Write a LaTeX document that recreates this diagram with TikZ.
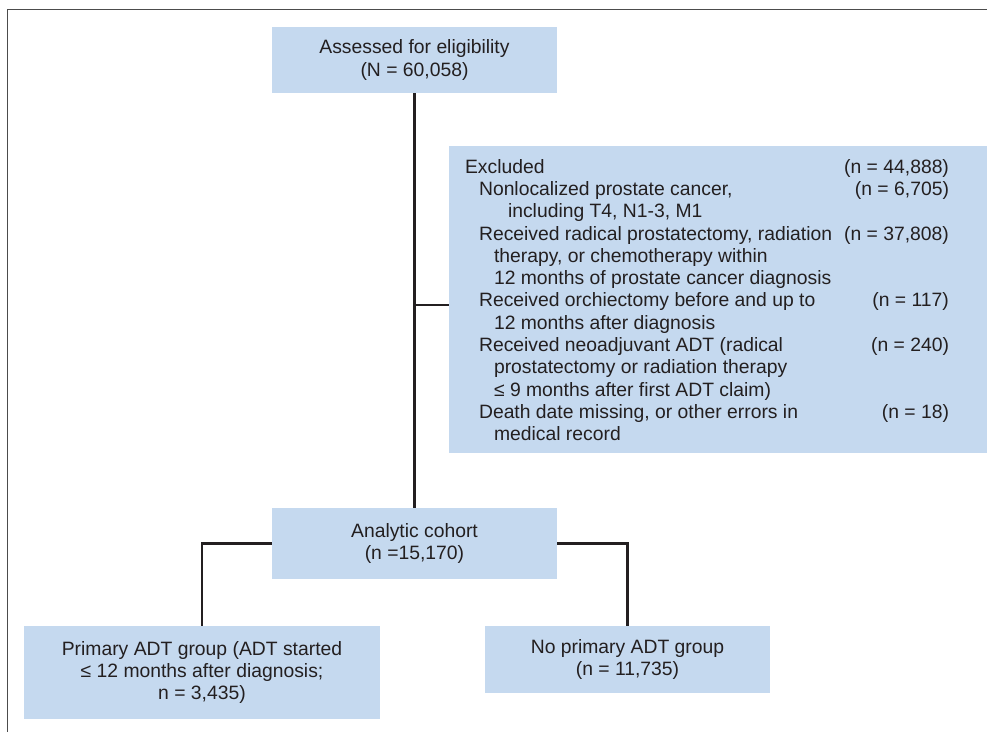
\documentclass[tikz,border=0pt]{standalone}
\usepackage{fontspec}
\setmainfont{Liberation Sans}
\usepackage{array}
\usetikzlibrary{calc}
\newcommand{\exitem}{\hspace*{0.28cm}}
\newcommand{\excont}{\hspace*{0.58cm}}
\newcommand{\exdeep}{\hspace*{0.86cm}}

\begin{document}
\begin{tikzpicture}[
  x=0.02cm, y=-0.02cm,
  font=\fontsize{11}{12.7}\selectfont,
  box/.style={fill=boxblue, text=ink, align=center, inner sep=0pt, minimum width=#1},
  link/.style={draw=ink, line width=1.5pt},
  frame/.style={draw=black!70, line width=1pt},
]
\definecolor{boxblue}{HTML}{C5D9EF}
\definecolor{ink}{HTML}{231F20}

\useasboundingbox (0,0) rectangle (987,732);
\draw[frame] (7.5,732) |- (987,9.5);

\node[box=5.7cm, minimum height=1.32cm] (assess) at (414.5,60) {Assessed for eligibility\\(N = 60,058)};
\node[box=10.76cm, minimum height=6.14cm] (excl) at (718,299.5) {%
\begin{tabular}{@{}p{7.58cm}@{}>{\raggedleft\arraybackslash}p{2.1cm}@{\hspace{0.44cm}}}
\noalign{\vspace{0.12cm}}
Excluded & (n = 44,888)\\
\exitem Nonlocalized prostate cancer, & (n = 6,705)\\
\exdeep including T4, N1-3, M1 & \\
\exitem Received radical prostatectomy, radiation & (n = 37,808)\\
\excont therapy, or chemotherapy within & \\
\excont 12 months of prostate cancer diagnosis & \\
\exitem Received orchiectomy before and up to & (n = 117)\\
\excont 12 months after diagnosis & \\
\exitem Received neoadjuvant ADT (radical & (n = 240)\\
\excont prostatectomy or radiation therapy & \\
\excont ≤ 9 months after first ADT claim) & \\
\exitem Death date missing, or other errors in & (n = 18)\\
\excont medical record &
\end{tabular}};
\node[box=5.7cm, minimum height=1.42cm] (cohort) at (414.5,543.5) {Analytic cohort\\(n =15,170)};
\node[box=7.12cm, minimum height=1.86cm] (prim) at (202,672.5) {Primary ADT group (ADT started\\≤ 12 months after diagnosis;\\n = 3,435)};
\node[box=5.7cm, minimum height=1.34cm] (noprim) at (627.5,659.5) {No primary ADT group\\(n = 11,735)};

\coordinate (split) at (415,305);
\draw[link] (assess.south) -- (cohort.north);
\draw[link] (split) -- (split -| excl.west);
\draw[link] (cohort.west) -| (prim.north);
\draw[link] (cohort.east) -| (noprim.north);
\end{tikzpicture}
\end{document}
